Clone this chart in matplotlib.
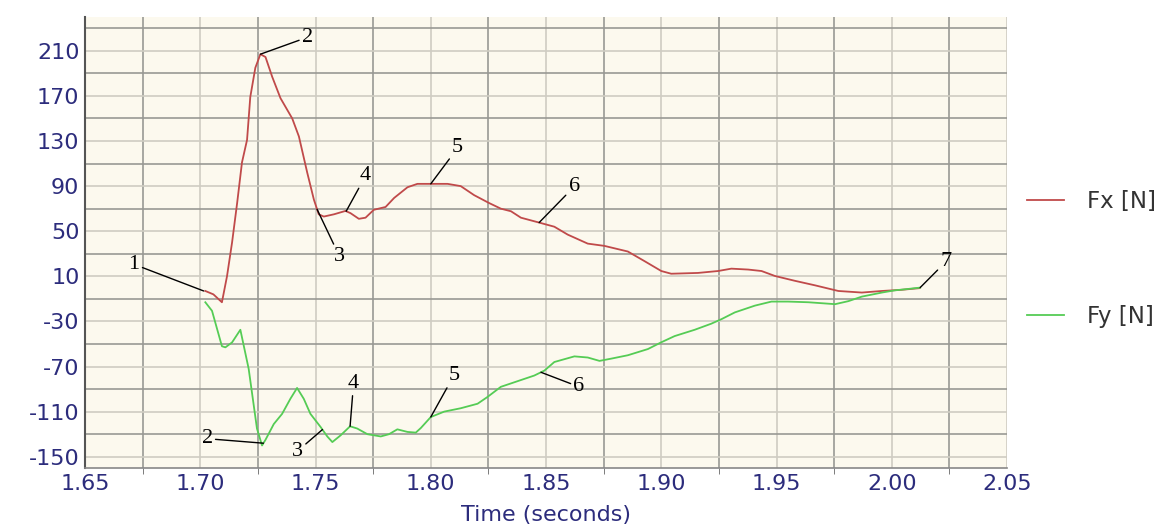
import numpy as np
import matplotlib
matplotlib.use('Agg')
import matplotlib.pyplot as plt

plt.rcParams['axes.unicode_minus'] = False

# Fx [N]
fx_t = [1.7022, 1.7057, 1.7094, 1.7116, 1.7138, 1.7160, 1.7181, 1.7203, 1.7217, 1.7239,
        1.7261, 1.7283, 1.7312, 1.7348, 1.7399, 1.7428, 1.7464, 1.7493, 1.7514, 1.7536,
        1.7580, 1.7630, 1.7652, 1.7688, 1.7717, 1.7753, 1.7804, 1.7841, 1.7899, 1.7942,
        1.8000, 1.8073, 1.8130, 1.8188, 1.8253, 1.8304, 1.8348, 1.8391, 1.8464, 1.8536,
        1.8594, 1.8681, 1.8753, 1.8855, 1.8927, 1.9000, 1.9043, 1.9159, 1.9246, 1.9304,
        1.9377, 1.9435, 1.9493, 1.9580, 1.9667, 1.9768, 1.9870, 1.9957, 2.0040, 2.0120]
fx_v = [-3, -6, -13, 10, 40, 75, 111, 131, 169, 195,
        207, 204.5, 187, 168, 150, 134, 102, 78, 65, 63,
        65, 68, 66, 61, 62, 69, 71.5, 79.5, 89, 92,
        92, 92, 90, 82, 75, 70, 67.7, 62, 58, 54,
        47, 39, 37, 32, 23.5, 14.7, 12.3, 13, 14.7, 16.8,
        16, 14.7, 10.3, 6, 2, -3, -4.4, -3, -2, -0.5]

# Fy [N]
fy_t = [1.7022, 1.7051, 1.7094, 1.7109, 1.7138, 1.7174, 1.7210, 1.7246, 1.7268, 1.7283,
        1.7319, 1.7355, 1.7391, 1.7420, 1.7449, 1.7478, 1.7522, 1.7551, 1.7573, 1.7609,
        1.7650, 1.7681, 1.7725, 1.7783, 1.7819, 1.7855, 1.7899, 1.7935, 1.7957, 1.8000,
        1.8058, 1.8130, 1.8203, 1.8246, 1.8304, 1.8362, 1.8449, 1.8493, 1.8536, 1.8623,
        1.8681, 1.8732, 1.8783, 1.8855, 1.8942, 1.9000, 1.9058, 1.9145, 1.9217, 1.9261,
        1.9319, 1.9406, 1.9478, 1.9550, 1.9638, 1.9754, 1.9812, 1.9870, 1.9957, 2.0014,
        2.0058, 2.0123]
fy_v = [-13, -20.6, -52, -53, -48.6, -37.4, -72, -125, -140, -135,
        -121, -112, -98.6, -89, -98.6, -112, -123.6, -132, -137, -131,
        -123, -125, -130, -132, -130, -125.7, -128, -128.6, -124.5, -114.8,
        -110, -107, -103, -97, -88, -84, -78, -73.6, -66, -61,
        -62, -65, -63, -60, -54.5, -48.5, -43, -37.4, -32, -28,
        -22, -16, -12.4, -12.4, -13, -14.7, -12, -8, -4.4, -2.4,
        -1.5, 0]

# annotations: label, time on curve, text time, text value
fx_notes = [('1', 1.7015, 1.6713, 20.6), ('2', 1.7261, 1.7465, 222), ('3', 1.7507, 1.7604, 27.7),
            ('4', 1.7633, 1.7717, 99), ('5', 1.8000, 1.8117, 124), ('6', 1.8470, 1.8622, 89.5)]
fy_notes = [('2', 1.7274, 1.7030, -134), ('3', 1.7530, 1.7422, -145), ('4', 1.7650, 1.7665, -85),
            ('5', 1.8000, 1.8100, -78), ('6', 1.8478, 1.8643, -88), ('7', 2.0123, 2.0235, 23)]

navy = '#2c2c7c'
fig = plt.figure(figsize=(11.74, 5.29), dpi=100)
ax = fig.add_axes([0.0724, 0.1153, 0.7854, 0.8526])
ax.set_facecolor('#fcf9ee')

ax.plot(fx_t, fx_v, color='#c04a4a', lw=1.3, label='Fx [N]')
ax.plot(fy_t, fy_v, color='#55cc55', lw=1.3, label='Fy [N]')

for notes, ts, vs in [(fx_notes, fx_t, fx_v), (fy_notes, fy_t, fy_v)]:
    for lab, t, tx, ty in notes:
        v = np.interp(t, ts, vs)
        ax.annotate(lab, xy=(t, v), xytext=(tx, ty), ha='center', va='center',
                    fontsize=16, family='Liberation Serif', color='black',
                    arrowprops=dict(arrowstyle='-', color='black', lw=1, shrinkA=0, shrinkB=0))

ax.set_xlim(1.65, 2.05)
ax.set_ylim(-160, 240)
xt = np.arange(1.65, 2.051, 0.05)
ax.set_xticks(xt)
ax.set_xticklabels(['%.2f' % x for x in xt])
ax.set_xticks(np.arange(1.675, 2.04, 0.05), minor=True)
ax.set_yticks(np.arange(-150, 211, 40))
ax.set_yticks(np.arange(-130, 231, 40), minor=True)
ax.tick_params(which='major', length=0, labelsize=16, labelcolor=navy, pad=4)
ax.tick_params(axis='x', which='minor', length=4, color='#666666', direction='out')
ax.tick_params(axis='y', which='minor', length=0)
ax.grid(which='major', color='#cfccc2', lw=1.2)
ax.grid(which='minor', color='#999994', lw=1.2)
ax.set_axisbelow(True)
for s in ['top', 'right']:
    ax.spines[s].set_visible(False)
ax.spines['left'].set_color('#555555')
ax.spines['left'].set_linewidth(1.5)
ax.spines['bottom'].set_color('#888888')
ax.spines['bottom'].set_linewidth(1.2)

ax.set_xlabel('Time (seconds)', fontsize=16, color=navy, labelpad=8)

fig.legend(loc='upper left', bbox_to_anchor=(0.8748, 0.64), frameon=False,
           fontsize=16.5, labelcolor='#333333', handlelength=1.6, handletextpad=1.0,
           labelspacing=4.0, borderpad=0, borderaxespad=0)

fig.savefig('out.png', dpi=100)
